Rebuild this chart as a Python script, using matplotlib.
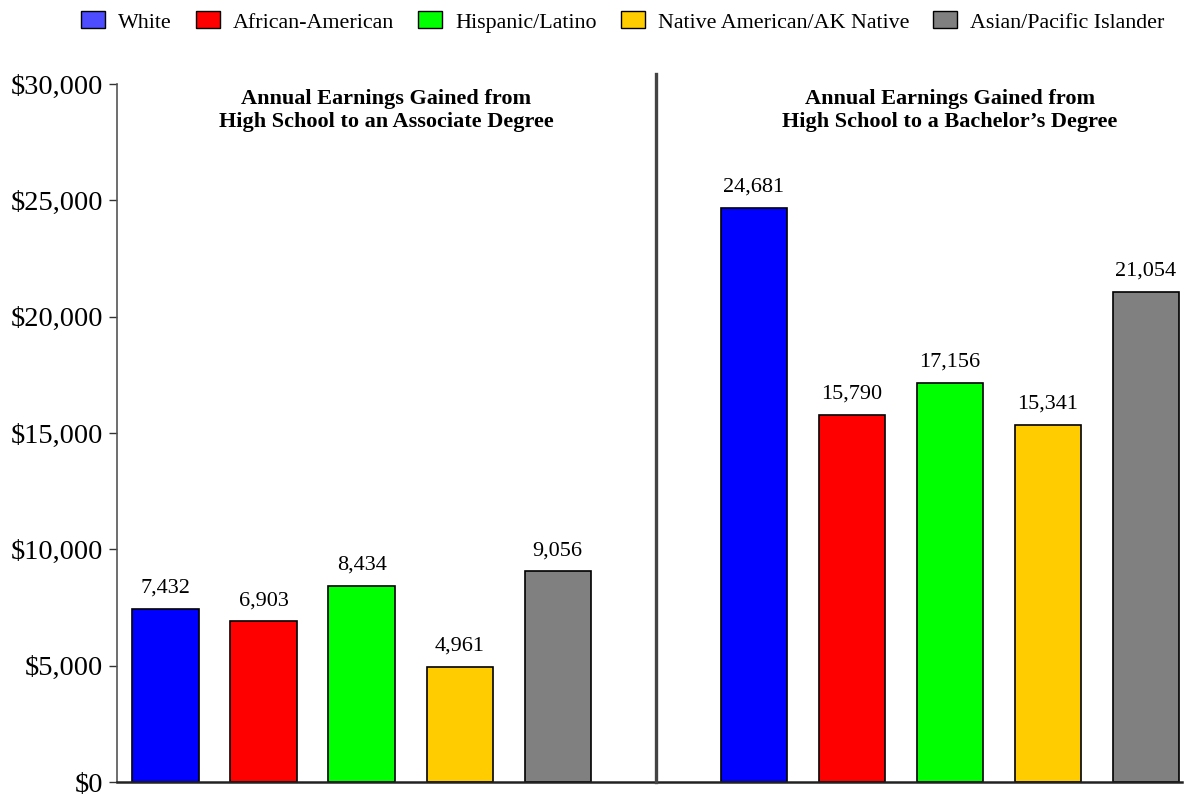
import matplotlib
matplotlib.use("Agg")
import matplotlib.pyplot as plt
from matplotlib.patches import Patch

groups = ["White", "African-American", "Hispanic/Latino",
          "Native American/AK Native", "Asian/Pacific Islander"]
colors = ["#0000ff", "#ff0000", "#00ff00", "#ffcc00", "#808080"]
legend_colors = ["#4d4dff", "#ff0000", "#00ff00", "#ffcc00", "#808080"]

associate = [7432, 6903, 8434, 4961, 9056]
bachelor = [24681, 15790, 17156, 15341, 21054]

panel_titles = [
    "Annual Earnings Gained from\nHigh School to an Associate Degree",
    "Annual Earnings Gained from\nHigh School to a Bachelor\u2019s Degree",
]
yticks = [0, 5000, 10000, 15000, 20000, 25000, 30000]

plt.rcParams["font.family"] = ["Liberation Serif", "DejaVu Serif"]

W, H = 1186, 797
fig = plt.figure(figsize=(W / 100, H / 100), dpi=100)
ax = fig.add_axes([117 / W, 15 / H, (1182 - 117) / W, (782 - 84) / H])

pos_left = list(range(5))
pos_right = [p + 6 for p in range(5)]
bar_w = 0.675

for xs, vals in ((pos_left, associate), (pos_right, bachelor)):
    bars = ax.bar(xs, vals, width=bar_w, color=colors,
                  edgecolor="black", linewidth=1.2, zorder=2)
    for b, v in zip(bars, vals):
        ax.annotate(f"{v:,}", (b.get_x() + b.get_width() / 2, v),
                    xytext=(0, 8), textcoords="offset points",
                    ha="center", va="bottom", fontsize=16)

ax.set_xlim(-0.495, 10.37)
ax.set_ylim(0, 30000)
ax.set_yticks(yticks)
ax.set_yticklabels([f"${t:,}" for t in yticks], fontsize=20.5)
ax.tick_params(axis="y", length=6, width=1, color="#333333", pad=4)
ax.set_xticks([])

for s in ("top", "right"):
    ax.spines[s].set_visible(False)
ax.spines["left"].set_color("#555555")
ax.spines["left"].set_linewidth(1.2)
ax.spines["bottom"].set_color("#222222")
ax.spines["bottom"].set_linewidth(1.8)

# divider between the two panels
ax.plot([5, 5], [0, 30430], color="#444444", linewidth=2.4,
        clip_on=False, zorder=3)

# panel titles
ax.text((386 - 165.5) / 98, 28860, panel_titles[0], ha="center", va="center",
        fontsize=16, fontweight="bold", linespacing=1.25)
ax.text(8, 28860, panel_titles[1], ha="center", va="center",
        fontsize=16, fontweight="bold", linespacing=1.25)

handles = [Patch(facecolor=c, edgecolor="black", linewidth=1.0) for c in legend_colors]
fig.legend(handles, groups, loc="center", bbox_to_anchor=(623 / W, 1 - 22 / H),
           ncol=5, frameon=False, fontsize=15.8, handlelength=1.08,
           handleheight=0.8, handletextpad=0.6, columnspacing=1.1,
           borderpad=0, borderaxespad=0)

fig.savefig("out.png", dpi=100)
